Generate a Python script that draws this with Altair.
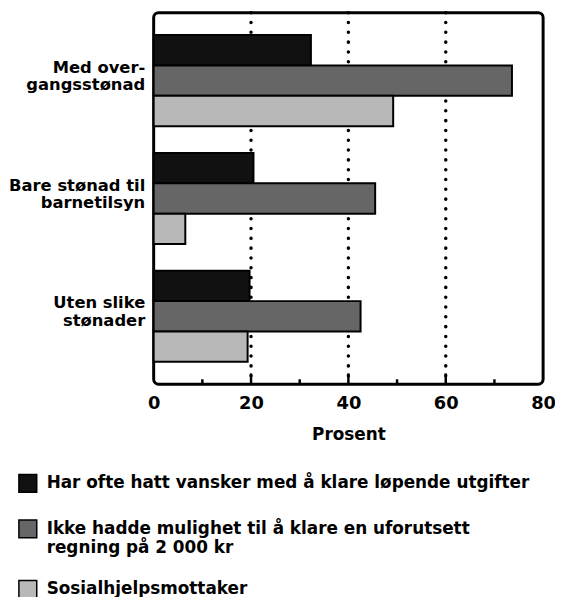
import altair as alt
import pandas as pd

categories = ["Med over-|gangsstønad", "Bare stønad til|barnetilsyn", "Uten slike|stønader"]
series = [
    "Har ofte hatt vansker med å klare løpende utgifter",
    "Ikke hadde mulighet til å klare en uforutsett|regning på 2 000 kr",
    "Sosialhjelpsmottaker",
]
values_s1 = [32.3, 20.5, 19.7]
values_s2 = [73.6, 45.5, 42.5]
values_s3 = [49.2, 6.5, 19.3]
colors = ["#111111", "#666666", "#b8b8b8"]
grid_values = [20, 40, 60]
minor_values = [10, 30, 50, 70]
tick_labels = [0, 20, 40, 60, 80]

rows = []
for s, vals in zip(series, [values_s1, values_s2, values_s3]):
    for c, v in zip(categories, vals):
        rows.append({"kategori": c, "serie": s, "prosent": v})
df = pd.DataFrame(rows)

FONT = "DejaVu Sans"
xscale = alt.Scale(domain=[0, 80], nice=False, zero=True)

grid = alt.Chart(pd.DataFrame({"v": grid_values})).mark_rule(
    color="black", strokeWidth=3.5, strokeDash=[0.1, 9.8], strokeCap="round"
).encode(x=alt.X("v:Q", scale=xscale))

major = alt.Chart(pd.DataFrame({"v": grid_values})).mark_rule(
    color="black", strokeWidth=2.5
).encode(x=alt.X("v:Q", scale=xscale), y=alt.value(375), y2=alt.value(364))

minor = alt.Chart(pd.DataFrame({"v": minor_values})).mark_rule(
    color="black", strokeWidth=2.5
).encode(x=alt.X("v:Q", scale=xscale), y=alt.value(375), y2=alt.value(370))

bars = alt.Chart(df).mark_bar(stroke="black", strokeWidth=2).encode(
    x=alt.X(
        "prosent:Q",
        scale=xscale,
        axis=alt.Axis(
            title="Prosent",
            values=tick_labels,
            domain=False,
            ticks=False,
            grid=False,
            labelFont=FONT,
            labelFontWeight="bold",
            labelFontSize=18,
            labelPadding=10,
            labelFlush=False,
            labelColor="black",
            titleFont=FONT,
            titleFontWeight="bold",
            titleFontSize=17,
            titlePadding=15,
            titleColor="black",
        ),
    ),
    y=alt.Y(
        "kategori:N",
        sort=categories,
        scale=alt.Scale(paddingInner=0.227, paddingOuter=0.19),
        axis=alt.Axis(
            title=None,
            domain=False,
            ticks=False,
            labelFont=FONT,
            labelFontWeight="bold",
            labelFontSize=16.5,
            labelPadding=9,
            labelLineHeight=18,
            labelOffset=-13,
            labelLimit=0,
            labelColor="black",
            labelExpr="split(datum.label, '|')",
        ),
    ),
    yOffset=alt.YOffset("serie:N", sort=series, scale=alt.Scale(paddingInner=0, paddingOuter=0)),
    color=alt.Color(
        "serie:N",
        sort=series,
        scale=alt.Scale(domain=series, range=colors),
        legend=alt.Legend(
            title=None,
            orient="none",
            legendX=-137,
            legendY=465,
            direction="vertical",
            symbolType="square",
            symbolSize=324,
            symbolStrokeColor="black",
            symbolStrokeWidth=1.5,
            symbolOpacity=1,
            labelFont=FONT,
            labelFontWeight="bold",
            labelFontSize=17,
            labelLimit=0,
            labelOffset=9,
            labelColor="black",
            rowPadding=22,
            labelExpr="split(datum.label, '|')",
        ),
    ),
)

chart = alt.layer(grid, major, minor, bars).properties(
    width=393,
    height=375,
    background="white",
    autosize=alt.AutoSizeParams(type="none"),
    padding={"left": 147, "top": 2, "right": 12, "bottom": 212},
).configure_view(
    stroke="black", strokeWidth=3, cornerRadius=5
)

chart.save("out.html", embed_options={"renderer": "svg", "actions": False})
